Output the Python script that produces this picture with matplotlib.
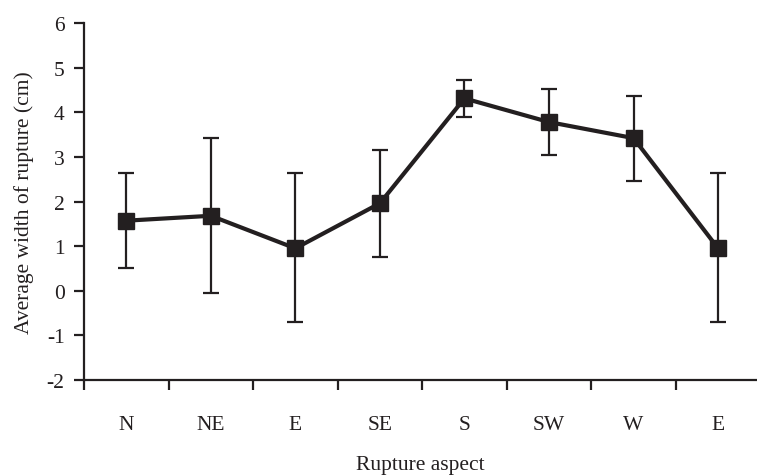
import numpy as np
import matplotlib.pyplot as plt
from matplotlib.ticker import FixedLocator

plt.rcParams["font.family"] = ["Liberation Serif", "DejaVu Serif"]
plt.rcParams["axes.unicode_minus"] = False

# data
aspects = ["N", "NE", "E", "SE", "S", "SW", "W", "E"]
mean_width = [1.57, 1.68, 0.95, 1.96, 4.31, 3.78, 3.42, 0.95]
err_low = [0.50, -0.05, -0.71, 0.76, 3.89, 3.05, 2.45, -0.71]
err_high = [2.64, 3.42, 2.64, 3.15, 4.73, 4.52, 4.37, 2.64]

ink = "#231f20"
fs = 15.5

x = np.arange(len(aspects))
y = np.array(mean_width)
yerr = np.vstack([y - np.array(err_low), np.array(err_high) - y])

fig = plt.figure(figsize=(7.57, 4.77), dpi=100)
ax = fig.add_axes([84 / 757, 1 - 381 / 477, 1 - 84 / 757, (381 - 24) / 477])

ax.errorbar(x, y, yerr=yerr, fmt="none", ecolor=ink, elinewidth=1.6,
            capsize=6, capthick=1.6, zorder=2)
ax.plot(x, y, color=ink, lw=3, marker="s", ms=11, zorder=3)

ax.set_xlim(-0.5, 7.46)
ax.set_ylim(-2, 6)
ax.set_yticks(range(-2, 7))

ax.set_xticks(x)
ax.set_xticklabels(aspects)
ax.xaxis.set_minor_locator(FixedLocator(np.arange(-0.5, 7.0, 1.0)))
ax.tick_params(axis="x", which="major", length=0, pad=25, labelsize=fs, colors=ink)
ax.tick_params(axis="x", which="minor", length=7, width=1.6, direction="out", color=ink)
ax.tick_params(axis="y", length=7, width=1.6, direction="out", pad=7, labelsize=fs, colors=ink)

for s in ["top", "right"]:
    ax.spines[s].set_visible(False)
for s in ["left", "bottom"]:
    ax.spines[s].set_linewidth(1.6)
    ax.spines[s].set_color(ink)

ax.set_xlabel("Rupture aspect", fontsize=fs, color=ink, labelpad=15)
ax.set_ylabel("Average width of rupture (cm)", fontsize=fs, color=ink, labelpad=9)

fig.savefig("out.png", dpi=100)
